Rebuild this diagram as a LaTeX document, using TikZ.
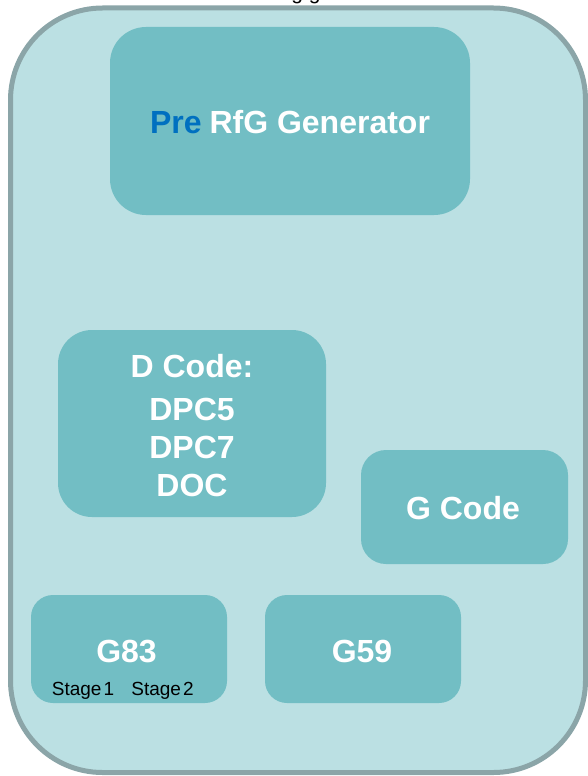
\documentclass[tikz,border=0pt]{standalone}
\usepackage{fontspec}
\setmainfont{Liberation Sans}
\definecolor{outerfill}{HTML}{BBE0E3}
\definecolor{outerline}{HTML}{8BA5A8}
\definecolor{innerfill}{HTML}{72BEC4}
\definecolor{preblue}{HTML}{0070C0}
\tikzset{
  outerbox/.style={draw=outerline, line width=5pt, fill=outerfill, rounded corners=92pt, inner sep=0pt},
  codebox/.style={fill=innerfill, draw=none, rounded corners=#1, inner sep=0pt},
  codebox/.default=34pt,
  bigtext/.style={text=white, font=\fontsize{32}{39}\selectfont\bfseries, inner sep=0pt, align=center},
  smalltext/.style={text=black, font=\fontsize{19}{22}\selectfont, inner sep=0pt},
  toptext/.style={text=black, font=\fontsize{21}{24}\selectfont, inner sep=0pt}
}
\begin{document}
\begin{tikzpicture}[x=1pt, y=-1pt]
\useasboundingbox (0,0) rectangle (588,776);
\clip (0,0) rectangle (588,776);
\node[toptext, anchor=base] (title) at (306,0) {All existing generators};
\node[outerbox, minimum width=575pt, minimum height=764.5pt] (outer) at (298,390.25) {};
\node[codebox=36pt, minimum width=360pt, minimum height=188pt] (pre) at (290,121) {};
\node[bigtext, anchor=base] (pretext) at (290,133) {{\color{preblue}Pre}\kern-1pt{} RfG Generator};
\node[codebox=34pt, minimum width=268pt, minimum height=187pt] (dcode) at (192,423.5) {};
\node[bigtext, anchor=base] (dl1) at (192,377) {D Code:};
\node[bigtext, anchor=base] (dl2) at (192,420) {DPC5};
\node[bigtext, anchor=base] (dl3) at (192,458) {DPC7};
\node[bigtext, anchor=base] (dl4) at (192,496) {DOC};
\node[codebox=25pt, minimum width=207pt, minimum height=114pt] (gcode) at (464.5,507) {};
\node[bigtext, anchor=base] (gcodetext) at (463,519) {G Code};
\node[codebox=22pt, minimum width=196pt, minimum height=108pt] (g83) at (129,649) {};
\node[bigtext, anchor=base] (g83text) at (126.5,662) {G83};
\node[smalltext, anchor=base] (st1) at (83,695) {Stage\kern2pt1};
\node[smalltext, anchor=base] (st2) at (162.5,695) {Stage\kern2pt2};
\node[codebox=22pt, minimum width=196pt, minimum height=108pt] (g59) at (363,649) {};
\node[bigtext, anchor=base] (g59text) at (362,662) {G59};
\end{tikzpicture}
\end{document}
